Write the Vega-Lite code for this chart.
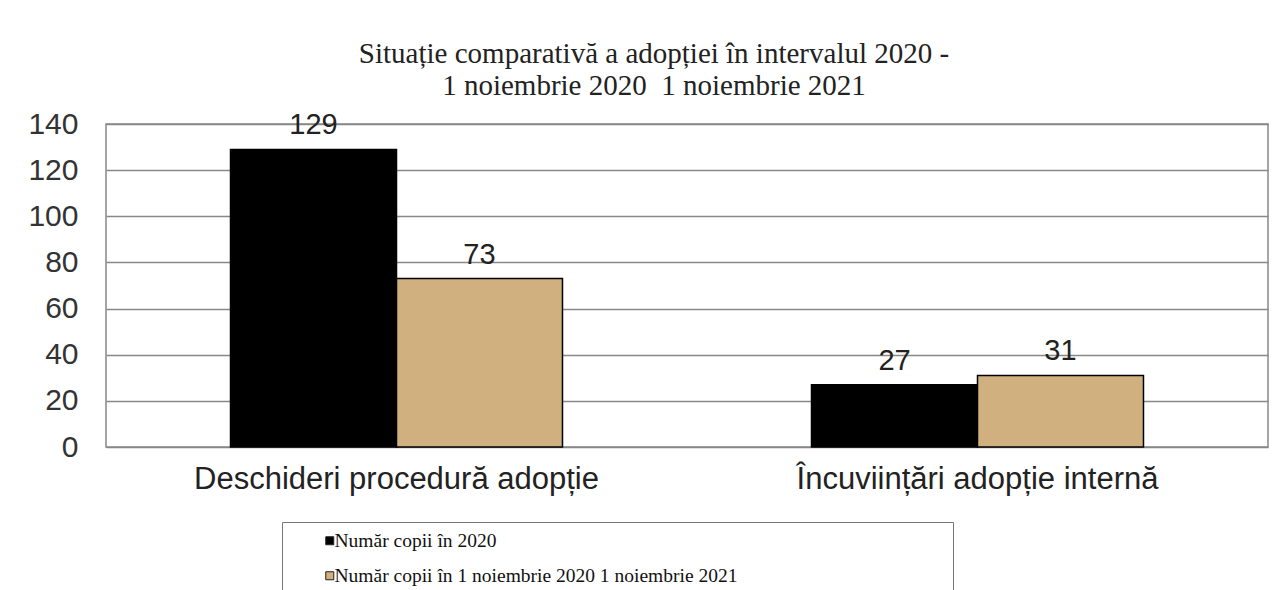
{
  "$schema": "https://vega.github.io/schema/vega-lite/v6.json",
  "width": 1162,
  "height": 323,
  "autosize": {"type": "none"},
  "padding": {"left": 106, "top": 124, "right": 14, "bottom": 143},
  "background": "white",
  "title": {
    "text": ["Situație comparativă a adopției în intervalul 2020 -", "1 noiembrie 2020\u00a0 1 noiembrie 2021"],
    "font": "Liberation Serif",
    "fontSize": 29,
    "fontWeight": "normal",
    "color": "#222222",
    "lineHeight": 32,
    "offset": 8,
    "dx": -33,
    "anchor": "middle"
  },
  "config": {
    "view": {"stroke": "#888888", "strokeWidth": 1.5}
  },
  "data": {
    "values": [
      {"categorie": "Deschideri procedură adopție", "serie": "Număr copii în 2020", "valoare": 129},
      {"categorie": "Deschideri procedură adopție", "serie": "Număr copii în 1 noiembrie 2020 1 noiembrie 2021", "valoare": 73},
      {"categorie": "Încuviințări adopție internă", "serie": "Număr copii în 2020", "valoare": 27},
      {"categorie": "Încuviințări adopție internă", "serie": "Număr copii în 1 noiembrie 2020 1 noiembrie 2021", "valoare": 31}
    ]
  },
  "encoding": {
    "x": {
      "field": "categorie",
      "type": "nominal",
      "sort": null,
      "scale": {"paddingInner": 0.4286, "paddingOuter": 0.2143},
      "axis": {
        "title": null,
        "labelAngle": 0,
        "labelFont": "Liberation Sans",
        "labelFontSize": 31,
        "labelColor": "#222222",
        "labelPadding": 17,
        "labelLimit": 800,
        "ticks": false,
        "domain": false
      }
    },
    "xOffset": {
      "field": "serie",
      "type": "nominal",
      "sort": ["Număr copii în 2020", "Număr copii în 1 noiembrie 2020 1 noiembrie 2021"],
      "scale": {"paddingInner": 0, "paddingOuter": 0}
    },
    "y": {
      "field": "valoare",
      "type": "quantitative",
      "scale": {"domain": [0, 140], "nice": false},
      "axis": {
        "title": null,
        "values": [0, 20, 40, 60, 80, 100, 120, 140],
        "grid": true,
        "gridColor": "#888888",
        "gridWidth": 1.5,
        "gridOpacity": 1,
        "domain": false,
        "ticks": false,
        "labelFont": "Liberation Sans",
        "labelFontSize": 30,
        "labelColor": "#333333",
        "labelPadding": 28
      }
    }
  },
  "layer": [
    {
      "mark": {"type": "bar", "stroke": "#000000", "strokeWidth": 1.5},
      "encoding": {
        "color": {
          "field": "serie",
          "type": "nominal",
          "scale": {
            "domain": ["Număr copii în 2020", "Număr copii în 1 noiembrie 2020 1 noiembrie 2021"],
            "range": ["#000000", "#CFB07E"]
          },
          "legend": {
            "orient": "none",
            "legendX": 176,
            "legendY": 398,
            "direction": "vertical",
            "title": " ",
            "titleOrient": "right",
            "titlePadding": 207,
            "titleFontSize": 10,
            "strokeColor": "#777777",
            "fillColor": "white",
            "padding": 9,
            "symbolOffset": 29,
            "symbolType": "square",
            "symbolSize": 64,
            "symbolStrokeColor": "#222222",
            "symbolStrokeWidth": 1,
            "labelFont": "Liberation Serif",
            "labelFontSize": 19.5,
            "labelColor": "#111111",
            "labelOffset": -5,
            "labelLimit": 600,
            "rowPadding": 14
          }
        }
      }
    },
    {
      "mark": {
        "type": "text",
        "baseline": "alphabetic",
        "dy": -15,
        "font": "Liberation Sans",
        "fontSize": 29,
        "color": "#222222"
      },
      "encoding": {
        "text": {"field": "valoare", "type": "quantitative"}
      }
    }
  ]
}
